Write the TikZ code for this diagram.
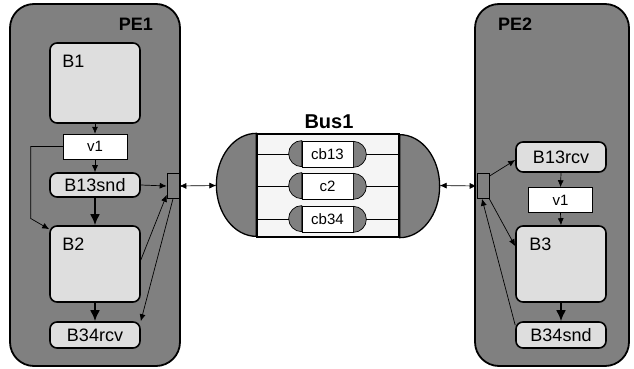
\documentclass[tikz,border=0pt]{standalone}
\usepackage{fontspec}
\setmainfont{Liberation Sans}
\usetikzlibrary{arrows.meta}

\definecolor{pegray}{RGB}{128,128,128}
\definecolor{blkgray}{RGB}{222,222,222}
\definecolor{busfill}{RGB}{245,245,245}

\tikzset{
	pe/.style={draw, line width=1.8pt, fill=pegray, rounded corners=24pt, inner sep=0pt},
	block/.style={draw, line width=1.6pt, fill=blkgray, rounded corners=7pt, inner sep=0pt,
		minimum width=90pt, font=\fontsize{18}{20}\selectfont},
	blocklbl/.style={anchor=base west, inner sep=0pt, font=\fontsize{18}{20}\selectfont},
	var/.style={draw, line width=0.5pt, fill=white, minimum width=64pt, minimum height=25pt,
		inner sep=0pt, font=\fontsize{15}{17}\selectfont},
	port/.style={draw, line width=0.6pt, fill=pegray, minimum width=12pt, minimum height=25pt, inner sep=0pt},
	chan/.style={draw, line width=0.7pt, fill=white, minimum width=51pt, minimum height=26pt,
		inner sep=0pt, font=\fontsize{15}{17}\selectfont},
	title/.style={inner sep=0pt, font=\fontsize{18}{20}\selectfont\bfseries},
	conn/.style={-{Latex[length=7pt,width=6pt]}, line width=0.7pt},
	flow/.style={-{Latex[length=11pt,width=10pt]}, line width=2pt},
	bi/.style={{Latex[length=7pt,width=6pt]}-{Latex[length=7pt,width=6pt]}, line width=0.7pt},
}

\begin{document}
\begin{tikzpicture}[x=1pt,y=-1pt]
	\useasboundingbox (0,0) rectangle (634,369);

	% processing elements
	\node[pe, minimum width=170pt, minimum height=362pt] (pe1) at (95,185) {};
	\node[pe, minimum width=154pt, minimum height=362pt] (pe2) at (552,185) {};
	\node[title, anchor=base east] (pe1lbl) at (153,31) {PE1};
	\node[title, anchor=base west] (pe2lbl) at (498,31) {PE2};

	% PE1 contents
	\node[block, minimum height=80pt] (b1) at (95,83) {};
	\node[blocklbl] (b1lbl) at ([shift={(13pt,-25pt)}]b1.north west) {B1};
	\node[var] (v1a) at (95,146.5) {v1};
	\node[block, minimum height=24pt] (b13snd) at (95,185) {B13snd};
	\node[block, minimum height=76pt] (b2) at (95,264) {};
	\node[blocklbl] (b2lbl) at ([shift={(13pt,-25pt)}]b2.north west) {B2};
	\node[block, minimum height=26pt] (b34rcv) at (95,335) {B34rcv};
	\node[port] (port1) at (173,186) {};

	% PE2 contents
	\node[port] (port2) at (483,186) {};
	\node[block, minimum height=30pt] (b13rcv) at (561,157) {B13rcv};
	\node[var] (v1b) at (560.5,200) {v1};
	\node[block, minimum height=76pt] (b3) at (561,264) {};
	\node[blocklbl] (b3lbl) at ([shift={(14pt,-25pt)}]b3.north west) {B3};
	\node[block, minimum height=26pt] (b34snd) at (561,335) {B34snd};

	% bus with its channels
	\node[title, font=\fontsize{20}{22}\selectfont\bfseries, anchor=base] (buslbl) at (329,128) {Bus1};
	\node[draw, line width=1.3pt, fill=busfill, minimum width=142pt, minimum height=103pt, inner sep=0pt] (bus) at (328,185.5) {};
	\draw[line width=1.3pt, fill=pegray] (bus.north west) arc[start angle=90, end angle=270, x radius=40pt, y radius=51.5pt] -- cycle;
	\draw[line width=1.3pt, fill=pegray] (bus.south east) arc[start angle=-90, end angle=90, x radius=40pt, y radius=51.5pt] -- cycle;
	\coordinate (busl) at ([xshift=-40pt]bus.west);
	\coordinate (busr) at ([xshift=40pt]bus.east);
	\node[chan] (cb13) at (327.5,154) {cb13};
	\node[chan] (c2) at (327.5,186) {c2};
	\node[chan] (cb34) at (327.5,219) {cb34};
	\foreach \c in {cb13,c2,cb34} {
		\draw[line width=0.7pt, fill=pegray] (\c.north west) arc[start angle=90, end angle=270, radius=13pt] -- cycle;
		\draw[line width=0.7pt, fill=pegray] (\c.south east) arc[start angle=-90, end angle=90, radius=13pt] -- cycle;
		\draw[line width=0.6pt] (bus.west |- \c.west) -- ([xshift=-13pt]\c.west);
		\draw[line width=0.6pt] ([xshift=13pt]\c.east) -- (bus.east |- \c.east);
	}

	% PE1 connections
	\draw[conn] (b1.south) -- (v1a.north);
	\draw[conn] (v1a.south) -- (b13snd.north);
	\draw[conn] (v1a.west) -- ++(-32,0) -- ++(0,72) -- ([yshift=-4pt]b2.north west);
	\draw[flow] (b13snd.south) -- (b2.north);
	\draw[flow] (b2.south) -- (b34rcv.north);
	\draw[conn] (b13snd.east) -- (port1.west);
	\draw[conn] ([yshift=4pt]b2.east) -- ([yshift=4pt]port1.south west);
	\draw[conn] (port1.south) -- (b34rcv.north east);

	% links to the bus
	\draw[bi] (port1.east) -- (busl);
	\draw[bi] (busr) -- (port2.west);

	% PE2 connections
	\draw[conn] ([yshift=-3pt]port2.north east) -- ([yshift=-3pt]b13rcv.west);
	\draw[conn] (port2.south east) -- ([yshift=-21pt]b3.north west);
	\draw[conn] ([yshift=-4pt]b34snd.north west) -- ([xshift=-1pt]port2.south);
	\draw[conn] (b13rcv.south) -- (v1b.north);
	\draw[conn] (v1b.south) -- (b3.north);
	\draw[flow] (b3.south) -- (b34snd.north);
\end{tikzpicture}
\end{document}
